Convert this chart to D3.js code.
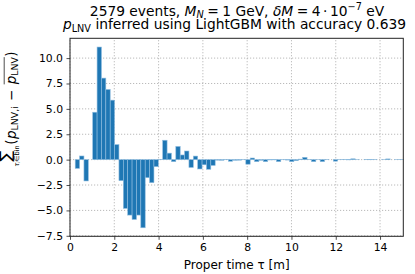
<!DOCTYPE html>
<html><head><meta charset="utf-8">
<script src="https://cdn.jsdelivr.net/npm/d3@7"></script>
<style>body{margin:0;background:#fff}svg{display:block}text{font-family:"DejaVu Sans",sans-serif;fill:#000;white-space:pre}</style>
</head><body><svg id="c" width="415" height="274"></svg>
<script>
// summed (p_LNV,i - mean p_LNV) per proper-time bin
const binValues = [
  -0.86, 0.36, -2.1, 0, 4.67, 11.09, 8.03, 6.91, 5.86, 1.48,
  -2.07, -4.8, -5.46, -5.89, -5.46, -6.71, -1.78, -2.27, -0.69, 0.03,
  1.91, 0.64, -0.2, 1.3, 0.46, 0.85, -0.77, 0.35, -0.92, -0.51,
  -0.95, -0.57, -0.05, -0.06, 0.03, -0.16, -0.06, -0.05, 0.02, -0.45,
  0.16, -0.2, -0.06, -0.2, -0.03, -0.02, -0.2, 0.02, -0.04, -0.2,
  -0.1, 0.05, 0.23, 0.02, -0.2, 0.01, -0.2, 0.02, 0, -0.15,
  0.02, 0.03, -0.02, 0.08, 0.01, 0, 0.03, -0.01, 0.02, 0,
  0.01, 0.07, 0, 0.01, 0.02
];
const tauRange = [0.235, 15.05];
const xTicks = [0, 2, 4, 6, 8, 10, 12, 14];
const yTicks = [-7.5, -5, -2.5, 0, 2.5, 5, 7.5, 10];
const xDomain = [0, 15.05];
const yDomain = [-7.55, 11.95];

const W = 415, H = 274, m = {l: 70, r: 11.7, t: 38.3, b: 37.7};
const svg = d3.select('#c');
const x = d3.scaleLinear().domain(xDomain).range([m.l, W - m.r]);
const y = d3.scaleLinear().domain(yDomain).range([H - m.b, m.t]);
const bw = (tauRange[1] - tauRange[0]) / binValues.length;
const bins = binValues.map((v, i) => ({x0: tauRange[0] + i * bw, x1: tauRange[0] + (i + 1) * bw, v}));

// grid
const grid = svg.append('g').attr('stroke', '#a8a8a8').attr('stroke-width', 0.8).attr('stroke-dasharray', '1.2,1.8');
grid.selectAll('.gx').data(xTicks).join('line').attr('class', 'gx')
  .attr('x1', d => x(d)).attr('x2', d => x(d)).attr('y1', y(yDomain[0])).attr('y2', y(yDomain[1]));
grid.selectAll('.gy').data(yTicks).join('line').attr('class', 'gy')
  .attr('y1', d => y(d)).attr('y2', d => y(d)).attr('x1', x(xDomain[0])).attr('x2', x(xDomain[1]));

// bars
svg.append('g').selectAll('rect').data(bins).join('rect')
  .attr('x', d => x(d.x0)).attr('width', d => x(d.x1) - x(d.x0))
  .attr('y', d => Math.min(y(d.v), y(0))).attr('height', d => Math.abs(y(d.v) - y(0)))
  .attr('fill', '#1f77b4').attr('stroke', '#8fbde0').attr('stroke-width', 0.6);

// axes
const fmtY = d3.format('.1f');
const ax = svg.append('g').attr('transform', `translate(0,${H - m.b})`)
  .call(d3.axisBottom(x).tickValues(xTicks).tickFormat(d3.format('d')).tickSize(3.5).tickPadding(3.5));
const ay = svg.append('g').attr('transform', `translate(${m.l},0)`)
  .call(d3.axisLeft(y).tickValues(yTicks).tickFormat(fmtY).tickSize(3.5).tickPadding(3.5));
[ax, ay].forEach(g => {
  g.select('.domain').remove();
  g.selectAll('.tick line').attr('stroke', '#222').attr('stroke-width', 0.8);
  g.selectAll('.tick text').attr('font-family', 'DejaVu Sans').attr('font-size', 10.8).attr('fill', '#000');
});
// frame
svg.append('rect').attr('x', m.l).attr('y', m.t).attr('width', W - m.l - m.r).attr('height', H - m.t - m.b)
  .attr('fill', 'none').attr('stroke', '#222').attr('stroke-width', 1);

// rich text helper
function rich(g, pieces) {
  let cx = 0;
  pieces.forEach(p => {
    cx += (p.pre || 0);
    const el = g.append('text').attr('x', cx).attr('y', p.dy || 0)
      .attr('font-size', p.size).attr('font-style', p.it ? 'italic' : 'normal').text(p.t);
    p.x = cx; p.w = el.node().getComputedTextLength();
    cx += p.w + (p.kern || 0);
  });
  return cx;
}
function centered(parent, cxPos, baseY, pieces) {
  const g = parent.append('g');
  const w = rich(g, pieces);
  g.attr('transform', `translate(${cxPos - w / 2},${baseY})`);
  return {g, w};
}

// titles
const ts = 13.8, ss = 9.7;
centered(svg, 237, 15.5, [
  {t: '2579 events, ', size: ts}, {t: 'M', size: ts, it: true}, {t: 'N', size: ss, it: true, dy: 2.8, kern: 3.5},
  {t: '=', size: ts, kern: 3.5}, {t: '1 GeV, ', size: ts}, {t: 'δM', size: ts, it: true, kern: 3.5},
  {t: '=', size: ts, kern: 3.5}, {t: '4', size: ts, kern: 2.5}, {t: '·', size: ts, kern: 2.5}, {t: '10', size: ts},
  {t: '−7', size: ss, dy: -5.5}, {t: ' eV', size: ts}
]);
centered(svg, 234.5, 28.8, [
  {t: 'p', size: ts, it: true}, {t: 'LNV', size: ss, dy: 2.8},
  {t: ' inferred using LightGBM with accuracy 0.639', size: ts}
]);

// x label
centered(svg, 236.7, 268.5, [{t: 'Proper time τ [m]', size: 12}]);

// y label (rotated): sum with limit placed underneath
const yl = svg.append('g').attr('transform', 'translate(15.5,109) rotate(-90)');
const ylg = yl.append('g');
const mainS = 13.5, subS = 9.4;
const lp = [
  {t: '(', size: mainS, kern: 0.5}, {t: 'p', size: mainS, it: true}, {t: 'LNV,i', size: subS, dy: 2.8, kern: 1},
  {t: ' − ', size: mainS, kern: 1}, {t: 'p', size: mainS, it: true}, {t: 'LNV', size: subS, dy: 2.8, kern: 0.5},
  {t: ')', size: mainS}
];
// sum symbol + limit
const sumG = ylg.append('g');
const sumT = sumG.append('text').attr('font-size', 16).attr('y', -5).text('∑');
const sw = sumT.node().getComputedTextLength();
const limG = sumG.append('g');
const limW = rich(limG, [
  {t: 'τ', size: 6.6, it: true}, {t: 'i', size: 4.8, it: true, dy: 1.3}, {t: '∈bin', size: 6.6}
]);
const sumW = Math.max(sw, limW);
sumT.attr('x', (sumW - sw) / 2);
limG.attr('transform', `translate(${(sumW - limW) / 2},3.2)`);
const mainG = ylg.append('g').attr('transform', `translate(${sumW + 0.5},0)`);
const mw = rich(mainG, lp);
mainG.append('line').attr('x1', lp[4].x).attr('x2', lp[5].x + lp[5].w).attr('y1', -11.3).attr('y2', -11.3)
  .attr('stroke', '#000').attr('stroke-width', 0.7);
const totalW = sumW + 0.5 + mw;
ylg.attr('transform', `translate(${-totalW / 2},0)`);
</script></body></html>
